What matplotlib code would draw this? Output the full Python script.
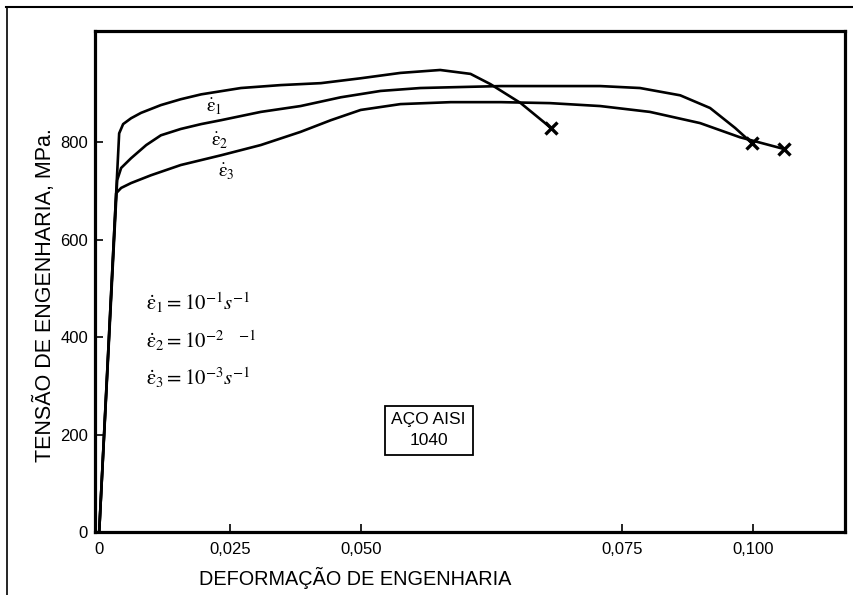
import numpy as np
import matplotlib
matplotlib.use("Agg")
import matplotlib.pyplot as plt
from matplotlib.lines import Line2D

plt.rcParams['font.family'] = ['Liberation Sans', 'DejaVu Sans']
plt.rcParams['mathtext.fontset'] = 'stix'

# ---- data (engineering strain, engineering stress MPa) ----
strain_e1 = [0, 0.00382, 0.00458, 0.0061, 0.0080, 0.0118, 0.0156, 0.0195, 0.0271, 0.0347,
             0.0424, 0.0500, 0.0538, 0.0576, 0.0605, 0.0624, 0.0653, 0.0682]
stress_e1 = [0, 818, 837, 849, 860, 876, 888, 898, 911, 917,
             921, 931, 942, 948, 940, 919, 880, 829]

strain_e2 = [0, 0.00344, 0.0042, 0.0061, 0.0090, 0.0118, 0.0156, 0.0195, 0.0233, 0.0309,
             0.0385, 0.0462, 0.0519, 0.0557, 0.0595, 0.0634, 0.0681, 0.0729, 0.0784, 0.0861,
             0.0918, 0.0966, 0.0998]
stress_e2 = [0, 722, 747, 767, 794, 814, 827, 837, 845, 862,
             874, 892, 905, 911, 913, 915, 915, 915, 911, 896,
             870, 829, 798]

strain_e3 = [0, 0.00324, 0.0042, 0.0061, 0.0099, 0.0156, 0.0233, 0.0309, 0.0385, 0.0443,
             0.0500, 0.0538, 0.0586, 0.0634, 0.0681, 0.0729, 0.0803, 0.0899, 0.0975, 0.1059]
stress_e3 = [0, 695, 706, 716, 732, 753, 773, 794, 821, 845,
             866, 878, 882, 882, 880, 874, 862, 839, 810, 786]

x_ticks = [0, 0.025, 0.050, 0.075, 0.100]
x_ticklabels = ['0', '0,025', '0,050', '0,075', '0,100']
y_ticks = [0, 200, 400, 600, 800]
y_ticklabels = ['0', '200', '400', '600', '800']

# non-uniform axis as in the original figure (0,050 -> 0,075 interval is twice as long)
def fwd(x):
    x = np.asarray(x, dtype=float)
    return np.where(x <= 0.05, x, np.where(x <= 0.075, 0.05 + 2 * (x - 0.05), x + 0.025))

def inv(y):
    y = np.asarray(y, dtype=float)
    return np.where(y <= 0.05, y, np.where(y <= 0.10, 0.05 + (y - 0.05) / 2, y - 0.025))

fig = plt.figure(figsize=(8.54, 5.95), dpi=100)
ax = fig.add_axes([95 / 854, 1 - 532 / 595, 750 / 854, 501 / 595])
ax.set_xscale('function', functions=(fwd, inv))

lw = 1.9
for sx, sy in [(strain_e1, stress_e1), (strain_e2, stress_e2), (strain_e3, stress_e3)]:
    ax.plot(sx, sy, color='black', lw=lw, solid_joinstyle='round', solid_capstyle='round')
    ax.plot(sx[-1], sy[-1], marker='x', color='black', ms=8, mew=2.4)

ax.set_xlim(-0.0008, 0.1176)
ax.set_ylim(0, 1028)
ax.set_xticks(x_ticks)
ax.set_xticklabels(x_ticklabels)
ax.set_yticks(y_ticks)
ax.set_yticklabels(y_ticklabels)
ax.tick_params(direction='in', length=6, width=1.2, labelsize=12, pad=5)
ax.tick_params(axis='x', pad=7)
for s in ax.spines.values():
    s.set_linewidth(2.3)

EPS = r'\dot{\mathrm{ε}}'

# curve labels
lab_kw = dict(fontsize=14, ha='center', va='center')
ax.text(0.0220, 872, rf'${EPS}_1$', **lab_kw)
ax.text(0.0231, 802, rf'${EPS}_2$', **lab_kw)
ax.text(0.0243, 738, rf'${EPS}_3$', **lab_kw)

# rate legend
leg_kw = dict(fontsize=15, ha='left', va='center')
ax.text(0.0090, 470, rf'${EPS}_1 = 10^{{-1}}s^{{-1}}$', **leg_kw)
ax.text(0.0090, 393, rf'${EPS}_2 = 10^{{-2}}\ \ \ ^{{-1}}$', **leg_kw)
ax.text(0.0090, 317, rf'${EPS}_3 = 10^{{-3}}s^{{-1}}$', **leg_kw)

ax.text(0.0565, 209, 'AÇO AISI\n1040', fontsize=12.5, ha='center', va='center',
        linespacing=1.5,
        bbox=dict(boxstyle='square,pad=0.38', fc='white', ec='black', lw=1.3))

fig.text(355 / 854, 1 - 578 / 595, 'DEFORMAÇÃO DE ENGENHARIA', fontsize=14.3,
         ha='center', va='center')
fig.text(45 / 854, 1 - 295 / 595, 'TENSÃO DE ENGENHARIA, MPa.', fontsize=15.5,
         ha='center', va='center', rotation=90)

# outer frame lines
fig.add_artist(Line2D([6 / 854, 1.0], [1 - 7 / 595, 1 - 7 / 595], color='black', lw=1.5))
fig.add_artist(Line2D([7 / 854, 7 / 854], [1 - 7 / 595, 0], color='black', lw=1.2))

fig.savefig('out.png', dpi=100, facecolor='white')
